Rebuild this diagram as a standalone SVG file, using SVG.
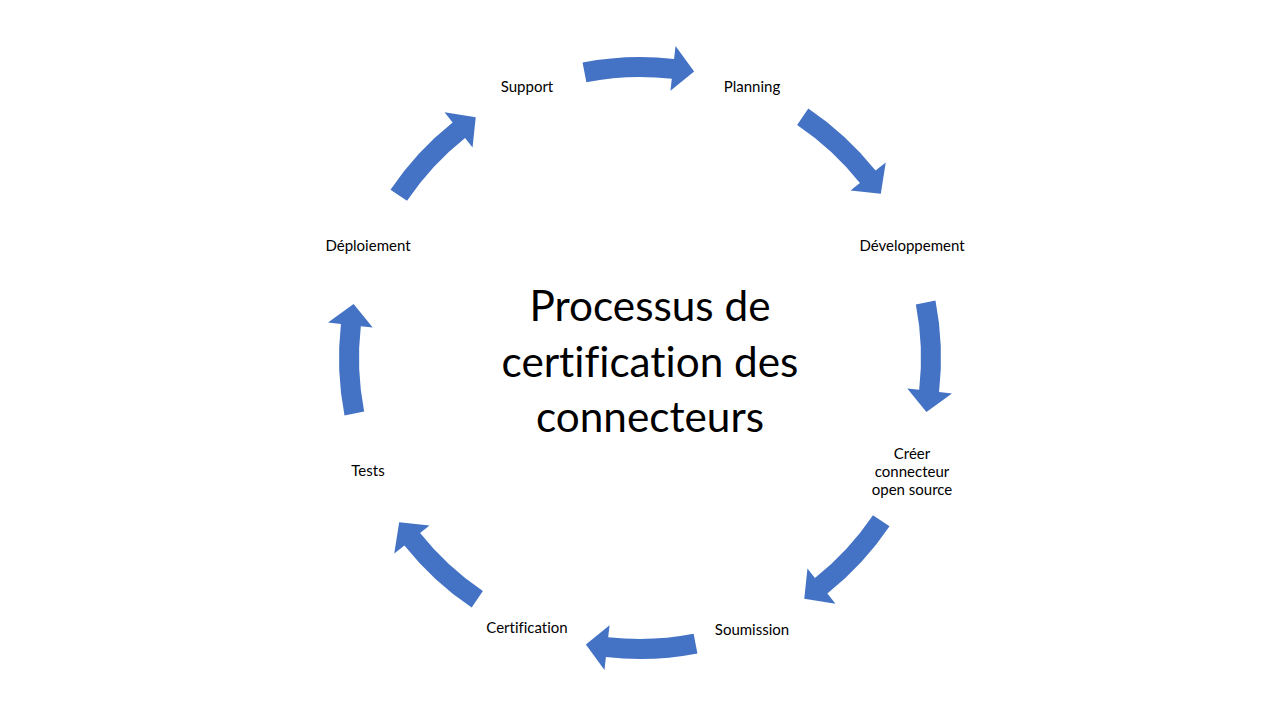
<svg xmlns="http://www.w3.org/2000/svg" xmlns:xlink="http://www.w3.org/1999/xlink" width="1280" height="720" viewBox="0 0 1280 720">
<style>
.lbl{font-family:Lato,"Noto Sans",sans-serif;font-size:15px;fill:#000;text-anchor:middle;font-variant-ligatures:none}
.title{font-family:Lato,"Noto Sans",sans-serif;font-size:42.3px;fill:#000;text-anchor:middle;font-variant-ligatures:none}
.arr{fill:#4472C4}
</style>
<defs>
<path id="arrow" class="arr" d="M582.57,62.53 A301,301 0 0 1 674.07,58.94 L675.54,46.02 L694.12,71.57 L670.45,90.73 L671.81,78.81 A281,281 0 0 0 586.38,82.16 Z"/>
</defs>
<rect width="1280" height="720" fill="#fff"/>
<g id="connectors">
<use xlink:href="#arrow"/>
<use xlink:href="#arrow" transform="rotate(45 640 358)"/>
<use xlink:href="#arrow" transform="rotate(90 640 358)"/>
<use xlink:href="#arrow" transform="rotate(135 640 358)"/>
<use xlink:href="#arrow" transform="rotate(180 640 358)"/>
<use xlink:href="#arrow" transform="rotate(225 640 358)"/>
<use xlink:href="#arrow" transform="rotate(270 640 358)"/>
<use xlink:href="#arrow" transform="rotate(315 640 358)"/>
</g>
<g id="title"><text class="title"><tspan x="650" y="321">Processus de</tspan><tspan x="650" y="377">certification des</tspan><tspan x="650" y="432">connecteurs</tspan></text></g>
<g id="node-planning"><text class="lbl" x="752" y="92">Planning</text></g>
<g id="node-developpement"><text class="lbl" x="912" y="251">Développement</text></g>
<g id="node-creer"><text class="lbl"><tspan x="912" y="459">Créer</tspan><tspan x="912" y="477">connecteur</tspan><tspan x="912" y="495">open source</tspan></text></g>
<g id="node-soumission"><text class="lbl" x="752" y="635">Soumission</text></g>
<g id="node-certification"><text class="lbl" x="527" y="633">Certification</text></g>
<g id="node-tests"><text class="lbl" x="368" y="476">Tests</text></g>
<g id="node-deploiement"><text class="lbl" x="368" y="251">Déploiement</text></g>
<g id="node-support"><text class="lbl" x="527" y="92">Support</text></g>
</svg>
